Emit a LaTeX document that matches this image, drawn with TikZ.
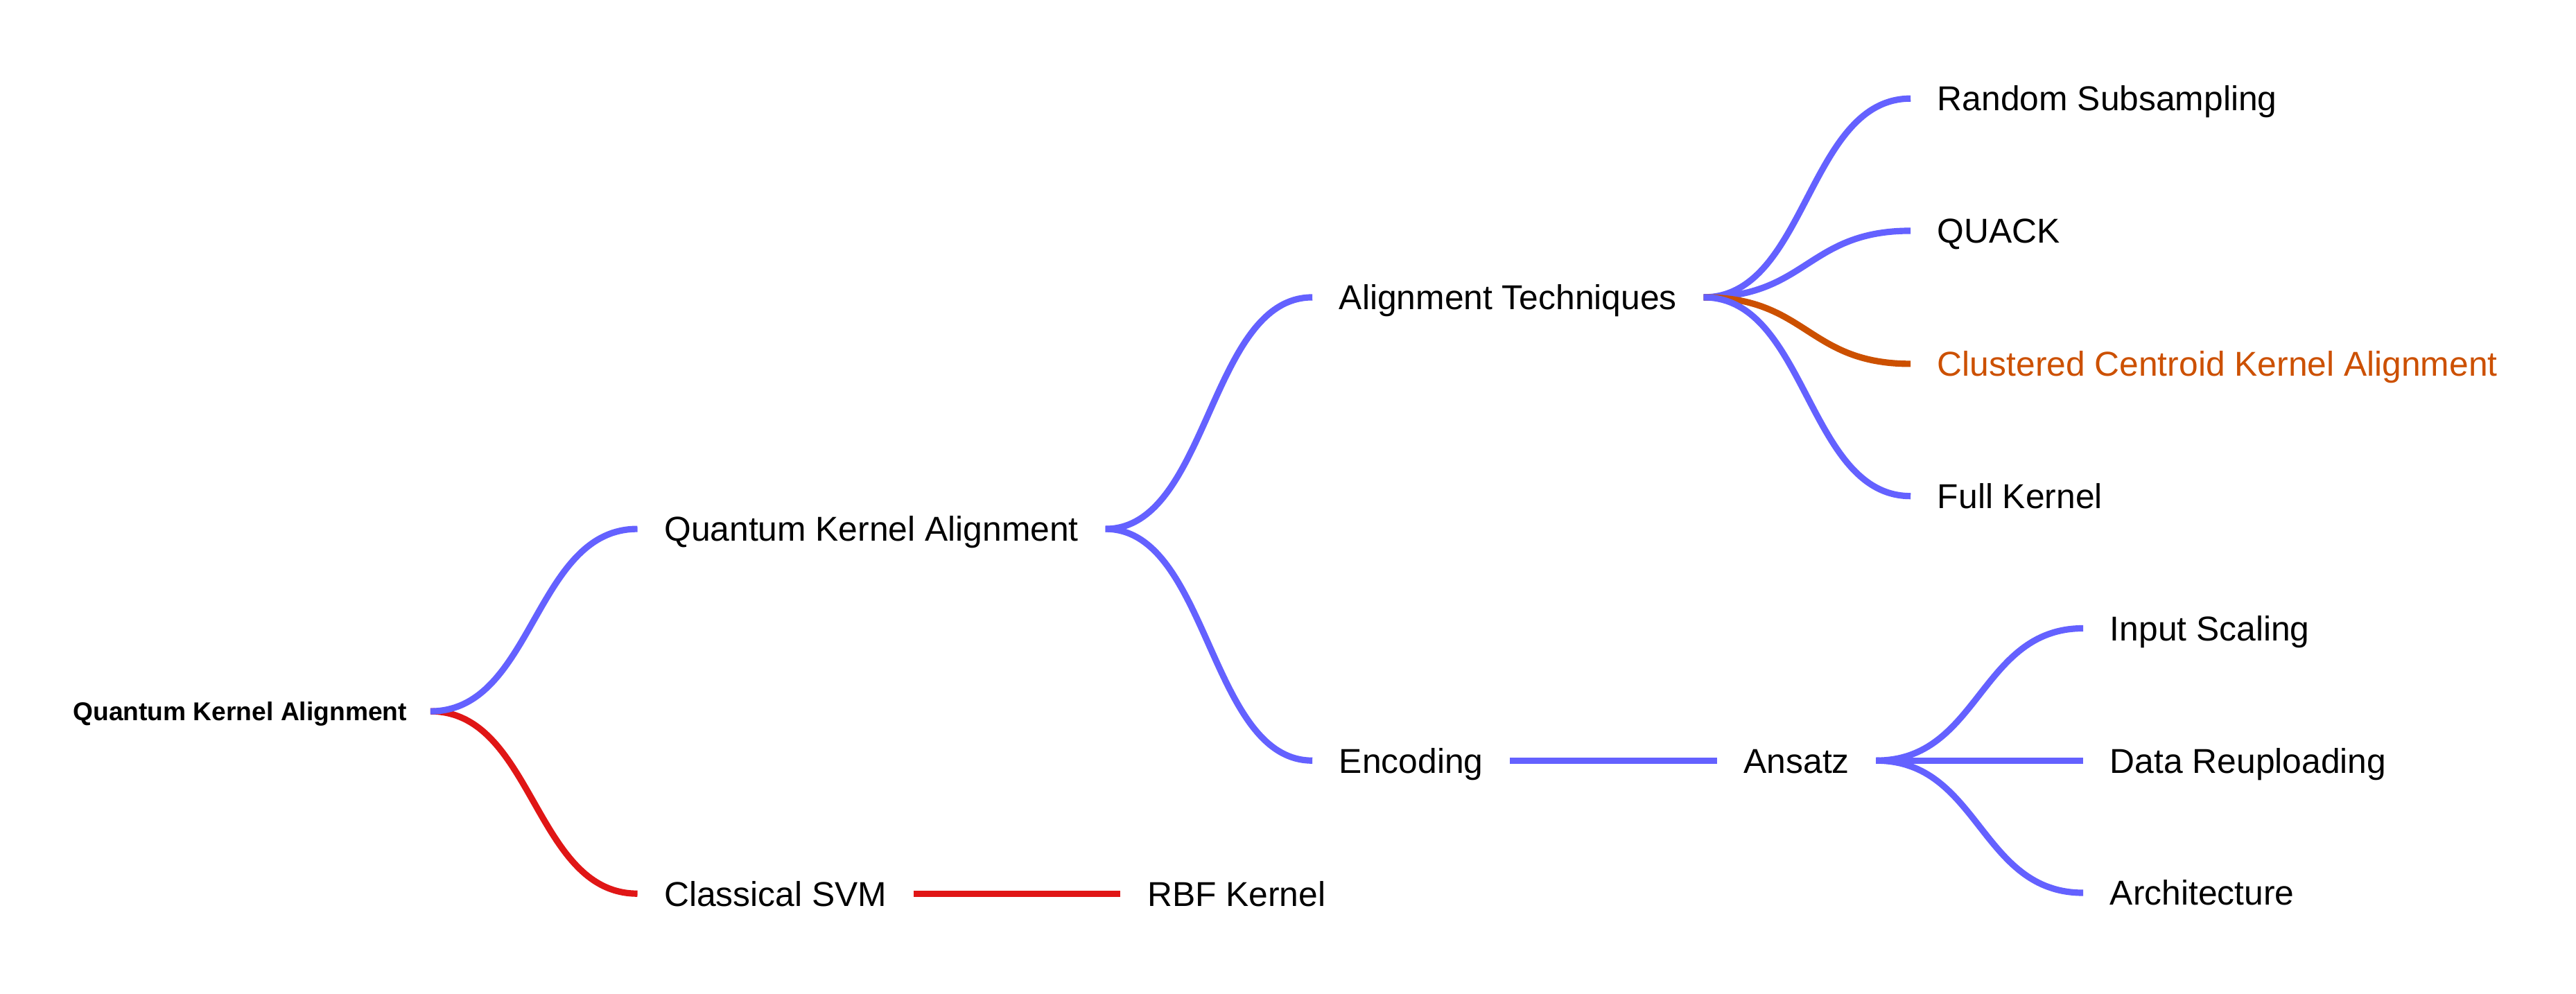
\documentclass[tikz,border=0pt]{standalone}
\usepackage{fontspec}
\setmainfont{Liberation Sans}
\usepackage{xcolor}
\usepackage{tikz}
\usetikzlibrary{
  positioning
}
\definecolor{LinkBlue}{HTML}{6461FF}
\definecolor{LinkRed}{HTML}{E01616}
\definecolor{LinkOrange}{HTML}{CC5000}
\tikzset{
  topic/.style={
    inner xsep=0.32cm,
    inner ysep=0pt,
    text height=8.56pt,
    text depth=0pt,
    font=\fontsize{11.95pt}{14pt}\selectfont
  },
  centre/.style={
    topic,
    inner xsep=0.28cm,
    text height=6.4pt,
    font=\fontsize{8.93pt}{11pt}\selectfont\bfseries
  },
  highlight/.style={
    topic,
    text=LinkOrange
  },
  link/.style={
    line width=2.2pt,
    draw=LinkBlue,
    to path={
      .. controls +(1.26,0) and +(-1.26,0) .. (\tikztotarget)
    }
  },
  redlink/.style={
    link,
    draw=LinkRed
  },
  orangelink/.style={
    link,
    draw=LinkOrange
  }
}
\begin{document}
\begin{tikzpicture}

  \useasboundingbox (0,0) rectangle (31.36,12.1);

  \node[
    centre,
    anchor=east
  ] (root) at (5.24,3.44) {
    Quantum Kernel Alignment
  };

  % first level
  \node[
    topic,
    right=2.52cm of root,
    yshift=2.22cm
  ] (qka) {
    Quantum Kernel Alignment
  };

  \node[
    topic,
    right=2.52cm of root,
    yshift=-2.22cm
  ] (svm) {
    Classical SVM
  };

  \node[
    topic,
    right=2.52cm of svm
  ] (rbf) {
    RBF Kernel
  };

  % second level
  \node[
    topic,
    right=2.52cm of qka,
    yshift=2.82cm
  ] (align) {
    Alignment Techniques
  };

  \node[
    topic,
    right=2.52cm of qka,
    yshift=-2.82cm
  ] (encoding) {
    Encoding
  };

  \node[
    topic,
    right=2.52cm of encoding
  ] (ansatz) {
    Ansatz
  };

  % alignment techniques
  \node[
    topic,
    right=2.52cm of align,
    yshift=2.42cm
  ] (random) {
    Random Subsampling
  };

  \node[
    topic,
    right=2.52cm of align,
    yshift=0.81cm
  ] (quack) {
    QUACK
  };

  \node[
    highlight,
    right=2.52cm of align,
    yshift=-0.81cm
  ] (ccka) {
    Clustered Centroid Kernel Alignment
  };

  \node[
    topic,
    right=2.52cm of align,
    yshift=-2.42cm
  ] (full) {
    Full Kernel
  };

  % ansatz
  \node[
    topic,
    right=2.52cm of ansatz,
    yshift=1.61cm
  ] (scaling) {
    Input Scaling
  };

  \node[
    topic,
    right=2.52cm of ansatz
  ] (reupload) {
    Data Reuploading
  };

  \node[
    topic,
    right=2.52cm of ansatz,
    yshift=-1.61cm
  ] (arch) {
    Architecture
  };

  % connectors
  \draw[redlink] (root.east) to (svm.west);
  \draw[redlink] (svm.east) to (rbf.west);
  \draw[link] (root.east) to (qka.west);

  \draw[link] (qka.east) to (align.west);
  \draw[link] (qka.east) to (encoding.west);
  \draw[link] (encoding.east) to (ansatz.west);

  \draw[link] (align.east) to (random.west);
  \draw[link] (align.east) to (quack.west);
  \draw[orangelink] (align.east) to (ccka.west);
  \draw[link] (align.east) to (full.west);

  \draw[link] (ansatz.east) to (scaling.west);
  \draw[link] (ansatz.east) to (reupload.west);
  \draw[link] (ansatz.east) to (arch.west);

\end{tikzpicture}
\end{document}
